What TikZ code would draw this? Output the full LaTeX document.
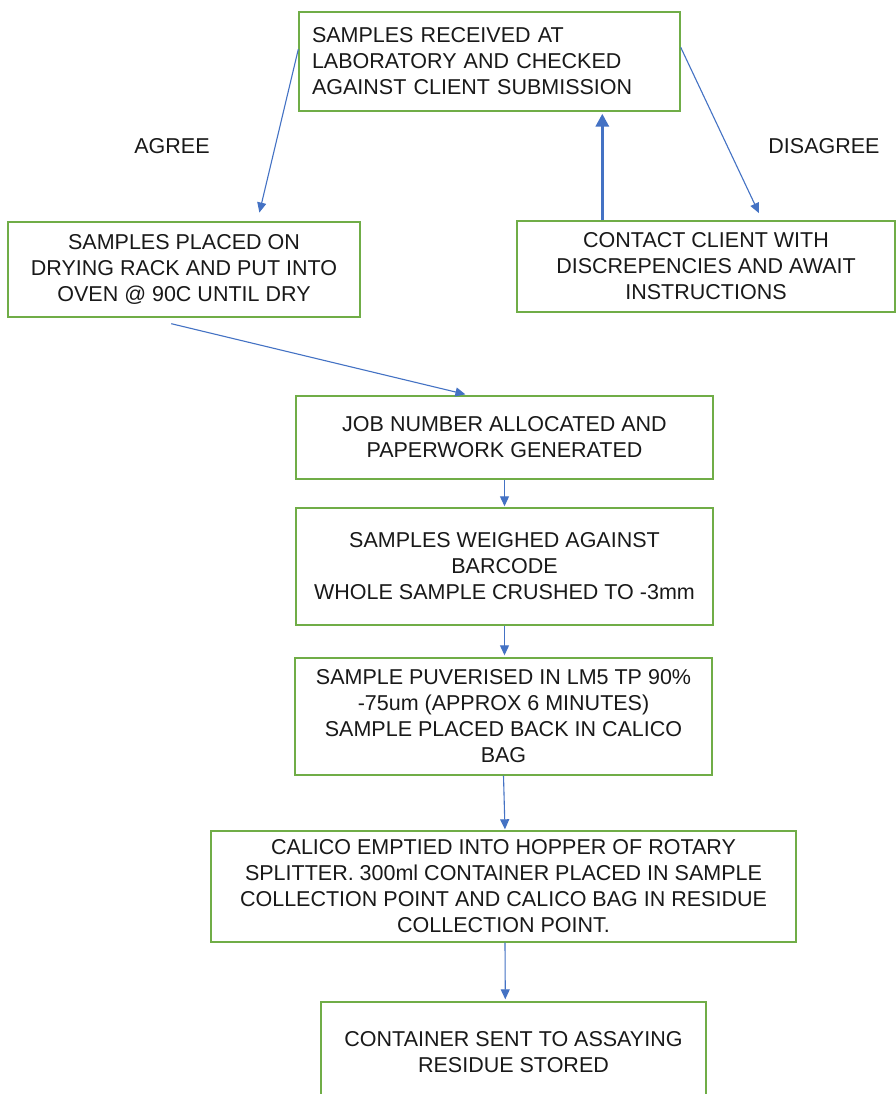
\documentclass[tikz,border=0pt]{standalone}
\usepackage{fontspec}
\setmainfont{Liberation Sans}
\usetikzlibrary{arrows.meta,calc}
\definecolor{boxgreen}{RGB}{112,173,71}
\definecolor{arrblue}{RGB}{68,114,196}
\definecolor{txt}{RGB}{25,25,25}
\begin{document}
\begin{tikzpicture}[x=1pt,y=-1pt,
  box/.style={draw=boxgreen,line width=1.4pt,fill=white,text=txt,align=center,inner sep=0pt,
    font=\fontsize{21.5}{26}\selectfont},
  arr/.style={draw=arrblue,line width=1.1pt,-{Triangle[length=10pt,width=9pt]}},
  thickarr/.style={draw=arrblue,line width=3.4pt,-{Triangle[length=13pt,width=13pt]}},
  lbl/.style={text=txt,font=\fontsize{21.5}{26}\selectfont}]
\clip (0,0) rectangle (896,1094);
\fill[white] (0,0) rectangle (896,1094);
% boxes
\node[box,align=left,text width=355pt,inner xsep=13pt,minimum height=99pt] (recv) at (489.5,61.5)
  {SAMPLES RECEIVED AT\\LABORATORY AND CHECKED\\AGAINST CLIENT SUBMISSION};
\node[box,minimum width=352pt,minimum height=95pt] (dry) at (184,269.5)
  {SAMPLES PLACED ON\\DRYING RACK AND PUT INTO\\OVEN @ 90C UNTIL DRY};
\node[box,minimum width=378pt,minimum height=91pt] (contact) at (706,266.5)
  {CONTACT CLIENT WITH\\DISCREPENCIES AND AWAIT\\INSTRUCTIONS};
\node[box,minimum width=417pt,minimum height=83pt] (job) at (504.5,437.5)
  {JOB NUMBER ALLOCATED AND\\PAPERWORK GENERATED};
\node[box,minimum width=417pt,minimum height=117pt] (weigh) at (504.5,566.5)
  {SAMPLES WEIGHED AGAINST\\BARCODE\\WHOLE SAMPLE CRUSHED TO -3mm};
\node[box,minimum width=417pt,minimum height=117pt] (pulv) at (503.5,716.5)
  {SAMPLE PUVERISED IN LM5 TP 90\%\\-75um (APPROX 6 MINUTES)\\SAMPLE PLACED BACK IN CALICO\\BAG};
\node[box,minimum width=585pt,minimum height=111pt] (calico) at (503.5,886.5)
  {CALICO EMPTIED INTO HOPPER OF ROTARY\\SPLITTER. 300ml CONTAINER PLACED IN SAMPLE\\COLLECTION POINT AND CALICO BAG IN RESIDUE\\COLLECTION POINT.};
\node[box,minimum width=385pt,minimum height=100pt] (cont) at (513.5,1052)
  {CONTAINER SENT TO ASSAYING\\RESIDUE STORED};
% labels
\node[lbl] (agree) at (172,146) {AGREE};
\node[lbl] (disagree) at (824,146) {DISAGREE};
% connectors
\draw[arr,shorten >=9pt] ($(recv.north west)+(0,38)$) -- ($(dry.north west)+(250,0)$);
\draw[arr,shorten >=8pt] ($(recv.north east)+(0,36)$) -- ($(contact.north west)+(246,0)$);
\draw[thickarr] ($(contact.north west)+(86,0)$) -- ($(recv.south west)+(304,2)$);
\draw[arr,shorten >=4pt] ($(dry.south west)+(164,6)$) -- ($(job.north west)+(174,0)$);
\draw[arr,shorten >=1pt] (job.south) -- (weigh.north);
\draw[arr,shorten >=2pt] (weigh.south) -- (weigh.south |- pulv.north);
\draw[arr,shorten >=1pt] (pulv.south) -- ($(calico.north)+(1.5,0)$);
\draw[arr,shorten >=2pt] ($(calico.south)+(1.5,0)$) -- ($(cont.north west)+(185,0)$);
\end{tikzpicture}
\end{document}
